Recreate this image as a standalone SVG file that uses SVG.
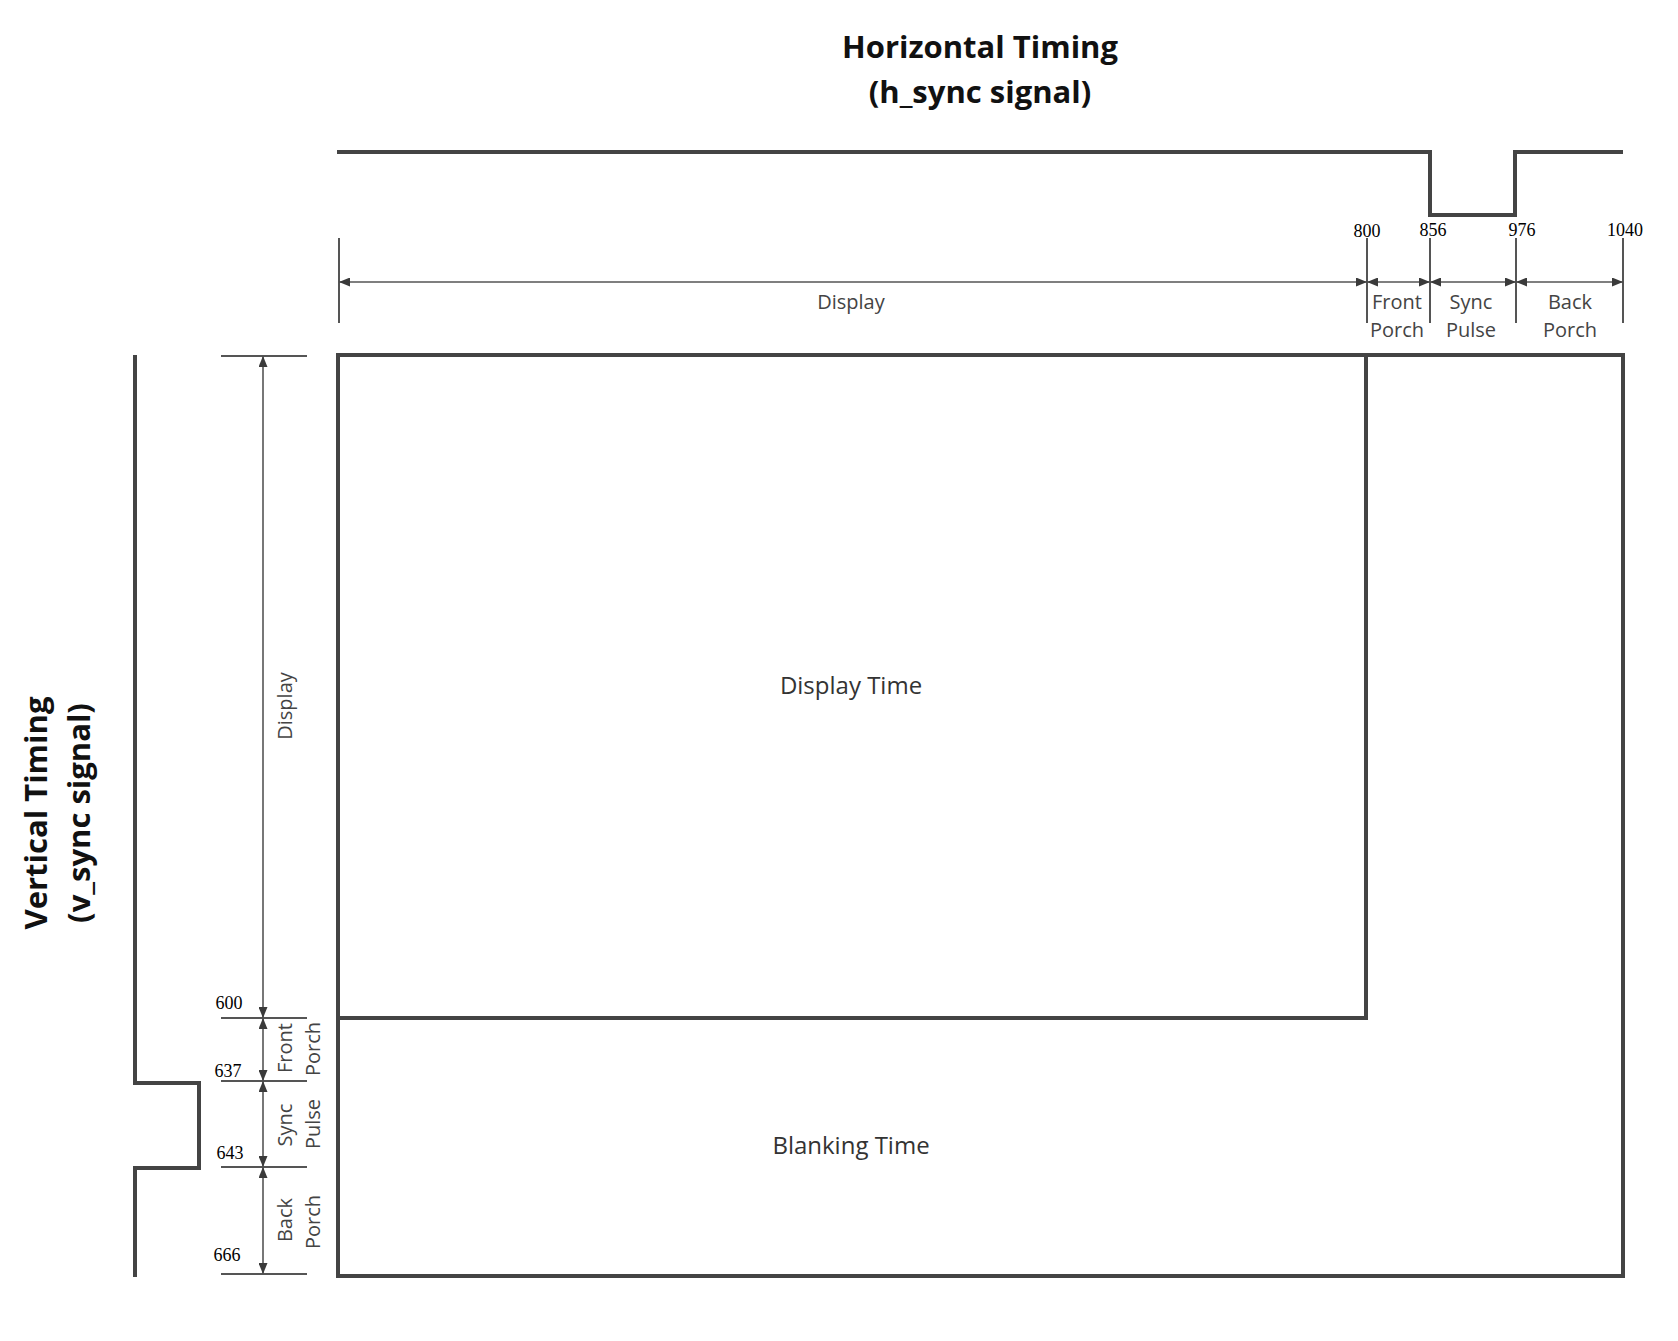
<svg xmlns="http://www.w3.org/2000/svg" width="1678" height="1341" viewBox="0 0 1678 1341">
<style>
.title{font-family:"Open Sans","Liberation Sans",sans-serif;font-weight:bold;font-size:31px;fill:#111;text-anchor:middle}
.lbl{font-family:"Open Sans","Liberation Sans",sans-serif;font-size:20px;fill:#444;text-anchor:middle}
.big{font-family:"Open Sans","Liberation Sans",sans-serif;font-size:24px;fill:#333;text-anchor:middle}
.num{font-family:"Liberation Serif",serif;font-size:18px;fill:#000;text-anchor:middle}
.sig{fill:none;stroke:#444;stroke-width:4;stroke-linejoin:miter}
.box{fill:none;stroke:#444;stroke-width:4}
.tick{stroke:#555;stroke-width:2;fill:none}
.dim{stroke:#555;stroke-width:1.6;fill:none;marker-start:url(#ah);marker-end:url(#ah)}
</style>
<defs>
<marker id="ah" viewBox="0 0 11 9" refX="11" refY="4.5" markerWidth="11" markerHeight="9" markerUnits="userSpaceOnUse" orient="auto-start-reverse">
<path d="M0,0 L11,4.5 L0,9 z" fill="#3a3a3a"/>
</marker>
</defs>
<rect width="1678" height="1341" fill="#fff"/>

<g id="title-horizontal">
<text class="title" x="980" y="58">Horizontal Timing</text>
<text class="title" x="980" y="103">(h_sync signal)</text>
</g>

<g id="title-vertical">
<text class="title" transform="translate(47,813) rotate(-90)">Vertical Timing</text>
<text class="title" transform="translate(90,813) rotate(-90)">(v_sync signal)</text>
</g>

<g id="hsync-signal">
<path class="sig" d="M337,152 H1430 V215 H1515 V152 H1623"/>
</g>

<g id="vsync-signal">
<path class="sig" d="M135,355 V1083 H199 V1168 H135 V1277"/>
</g>

<g id="display-time">
<path class="box" d="M338,1018 V355 H1366 V1018 Z"/>
<text class="big" x="851" y="694">Display Time</text>
</g>

<g id="blanking-time">
<path class="box" d="M1366,355 H1623 V1276 H338 V1018"/>
<text class="big" x="851" y="1154">Blanking Time</text>
</g>

<g id="h-ticks">
<line class="tick" x1="339" y1="238" x2="339" y2="323"/>
<line class="tick" x1="1367" y1="238" x2="1367" y2="323"/>
<line class="tick" x1="1430" y1="238" x2="1430" y2="323"/>
<line class="tick" x1="1516" y1="238" x2="1516" y2="323"/>
<line class="tick" x1="1623" y1="238" x2="1623" y2="323"/>
<text class="num" x="1367" y="237">800</text>
<text class="num" x="1433" y="236">856</text>
<text class="num" x="1522" y="236">976</text>
<text class="num" x="1625" y="236">1040</text>
</g>

<g id="v-ticks">
<line class="tick" x1="221" y1="356" x2="307" y2="356"/>
<line class="tick" x1="221" y1="1018" x2="307" y2="1018"/>
<line class="tick" x1="221" y1="1081" x2="307" y2="1081"/>
<line class="tick" x1="221" y1="1167" x2="307" y2="1167"/>
<line class="tick" x1="221" y1="1274" x2="307" y2="1274"/>
<text class="num" x="229" y="1009">600</text>
<text class="num" x="228" y="1077">637</text>
<text class="num" x="230" y="1159">643</text>
<text class="num" x="227" y="1261">666</text>
</g>

<g id="connectors">
<line class="dim" x1="339" y1="282" x2="1367" y2="282"/>
<line class="dim" x1="1367" y1="282" x2="1430" y2="282"/>
<line class="dim" x1="1430" y1="282" x2="1516" y2="282"/>
<line class="dim" x1="1516" y1="282" x2="1623" y2="282"/>
<line class="dim" x1="263" y1="356" x2="263" y2="1018"/>
<line class="dim" x1="263" y1="1018" x2="263" y2="1081"/>
<line class="dim" x1="263" y1="1081" x2="263" y2="1167"/>
<line class="dim" x1="263" y1="1167" x2="263" y2="1274"/>
</g>

<g id="h-labels">
<text class="lbl" x="851" y="309">Display</text>
<text class="lbl" x="1397" y="309">Front</text>
<text class="lbl" x="1397" y="337">Porch</text>
<text class="lbl" x="1471" y="309">Sync</text>
<text class="lbl" x="1471" y="337">Pulse</text>
<text class="lbl" x="1570" y="309">Back</text>
<text class="lbl" x="1570" y="337">Porch</text>
</g>

<g id="v-labels">
<text class="lbl" transform="translate(292,706) rotate(-90)">Display</text>
<text class="lbl" transform="translate(292,1048) rotate(-90)">Front</text>
<text class="lbl" transform="translate(320,1049) rotate(-90)">Porch</text>
<text class="lbl" transform="translate(292,1125) rotate(-90)">Sync</text>
<text class="lbl" transform="translate(320,1124) rotate(-90)">Pulse</text>
<text class="lbl" transform="translate(292,1220) rotate(-90)">Back</text>
<text class="lbl" transform="translate(320,1222) rotate(-90)">Porch</text>
</g>
</svg>
